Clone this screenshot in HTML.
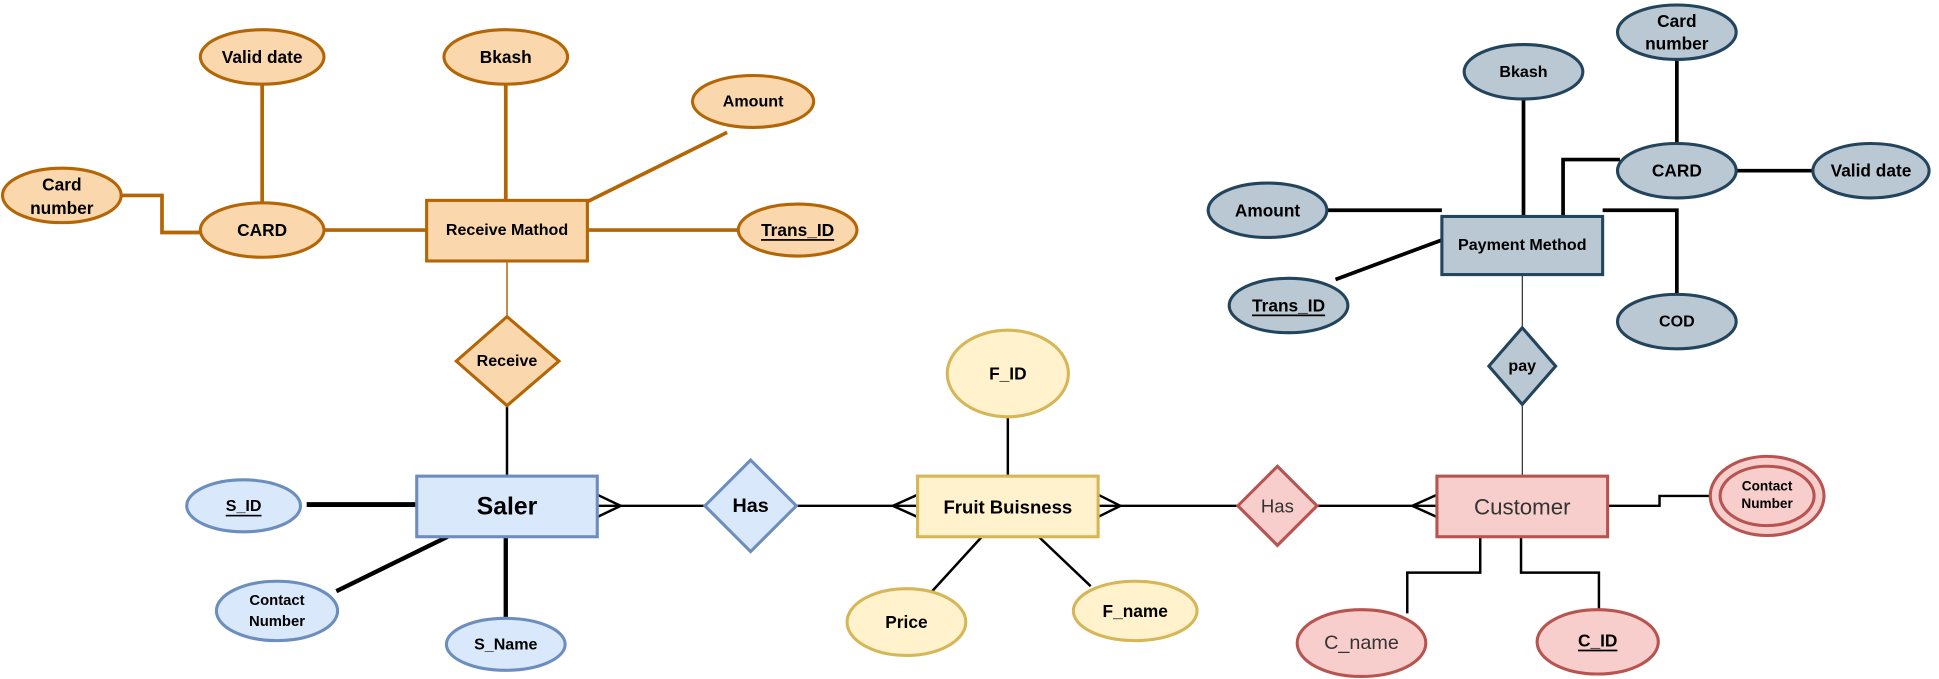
<!DOCTYPE html>
<html><head><meta charset="utf-8"><style>
html,body{margin:0;padding:0;background:#fff;}
svg{display:block;}
text{font-family:"Liberation Sans",Arial,sans-serif;text-anchor:middle;dominant-baseline:central;}
</style></head><body>
<svg width="1939" height="679" viewBox="0 0 1568 549" xmlns="http://www.w3.org/2000/svg">
<g fill="none" stroke-linejoin="miter">
<g stroke="#b46504" stroke-width="3">
<line x1="212" y1="68" x2="212" y2="164"/>
<line x1="409" y1="68" x2="409" y2="162"/>
<line x1="475" y1="163" x2="588" y2="107"/>
<polyline points="98,158 131,158 131,188 162,188"/>
<line x1="262" y1="186" x2="345" y2="186"/>
<line x1="475" y1="186" x2="597" y2="186"/>
</g>
<line x1="410" y1="211" x2="410" y2="256" stroke="#b46504" stroke-width="1.2"/>
<g stroke="#000" stroke-width="2">
<line x1="410" y1="328" x2="410" y2="385"/>
<line x1="483" y1="409" x2="570" y2="409"/>
<polyline points="483,400 502,409 483,418"/>
<line x1="644" y1="409" x2="742" y2="409"/>
<polyline points="742,400 722,409 742,418"/>
<line x1="888" y1="409" x2="1001" y2="409"/>
<polyline points="888,400 906,409 888,418"/>
<line x1="1065" y1="409" x2="1162" y2="409"/>
<polyline points="1162,400 1142,409 1162,418"/>
<line x1="815" y1="337" x2="815" y2="385"/>
<line x1="752" y1="480" x2="794" y2="434"/>
<line x1="882" y1="474" x2="840" y2="434"/>
<polyline points="1300,409 1342,409 1342,401 1383,401"/>
<polyline points="1197,434 1197,463 1138,463 1138,496"/>
<polyline points="1230,434 1230,463 1293,463 1293,493"/>
</g>
<line x1="248" y1="408" x2="337" y2="408" stroke="#000" stroke-width="4"/>
<line x1="272" y1="478" x2="362" y2="434" stroke="#000" stroke-width="3.5"/>
<line x1="409" y1="434" x2="409" y2="500" stroke="#000" stroke-width="3.5"/>
<g stroke="#000" stroke-width="3">
<line x1="1232" y1="80" x2="1232" y2="175"/>
<line x1="1356" y1="48" x2="1356" y2="116"/>
<polyline points="1264,175 1264,129 1310,129"/>
<line x1="1404" y1="138" x2="1466" y2="138"/>
<line x1="1073" y1="170" x2="1166" y2="170"/>
<line x1="1080" y1="226" x2="1166" y2="194"/>
<polyline points="1296,170 1356,170 1356,238"/>
</g>
<g stroke="#000" stroke-width="0.8">
<line x1="1231" y1="222" x2="1231" y2="265"/>
<line x1="1231" y1="327" x2="1231" y2="385"/>
</g>
</g>
<g fill="#fad7ac" stroke="#b46504" stroke-width="2.5">
<ellipse cx="212" cy="46" rx="50" ry="22"/>
<ellipse cx="409" cy="46" rx="50" ry="22"/>
<ellipse cx="609" cy="82" rx="49" ry="21"/>
<ellipse cx="50" cy="158" rx="48" ry="22"/>
<ellipse cx="212" cy="186" rx="50" ry="22"/>
<ellipse cx="645" cy="186" rx="48" ry="21"/>
<rect x="345" y="162" width="130" height="49"/>
<polygon points="410,256 452,292 410,328 369,292"/>
</g>
<g fill="#dae8fc" stroke="#6c8ebf" stroke-width="2.5">
<rect x="337" y="385" width="146" height="49"/>
<ellipse cx="197" cy="409" rx="46" ry="21"/>
<ellipse cx="224" cy="494" rx="49" ry="24"/>
<ellipse cx="409" cy="521" rx="48" ry="21"/>
<polygon points="607,372 644,409 607,446 570,409"/>
</g>
<g fill="#fff2cc" stroke="#d6b656" stroke-width="2.5">
<rect x="742" y="385" width="146" height="49"/>
<ellipse cx="815" cy="302" rx="49" ry="35"/>
<ellipse cx="733" cy="503" rx="48" ry="27"/>
<ellipse cx="918" cy="494" rx="50" ry="24"/>
</g>
<g fill="#f8cecc" stroke="#b85450" stroke-width="2.5">
<polygon points="1033,377 1065,409 1033,441 1001,409"/>
<rect x="1162" y="385" width="138" height="49"/>
<ellipse cx="1429" cy="401" rx="46" ry="32"/>
<ellipse cx="1429" cy="401" rx="38" ry="24"/>
<ellipse cx="1101" cy="520" rx="52" ry="27"/>
<ellipse cx="1292" cy="519" rx="49" ry="26"/>
</g>
<g fill="#bac8d3" stroke="#23445d" stroke-width="2.5">
<rect x="1166" y="175" width="130" height="47"/>
<ellipse cx="1232" cy="58" rx="48" ry="22"/>
<ellipse cx="1356" cy="26" rx="48" ry="22"/>
<ellipse cx="1356" cy="138" rx="48" ry="22"/>
<ellipse cx="1513" cy="138" rx="47" ry="22"/>
<ellipse cx="1025" cy="170" rx="48" ry="22"/>
<ellipse cx="1042" cy="247" rx="48" ry="22"/>
<ellipse cx="1356" cy="260" rx="48" ry="22"/>
<polygon points="1231,265 1258,296 1231,327 1204,296"/>
</g>
<g font-weight="bold" font-size="14" fill="#000">
<text x="212" y="46">Valid date</text>
<text x="409" y="46">Bkash</text>
<text x="609" y="82" font-size="13">Amount</text>
<text x="50" y="149">Card</text>
<text x="50" y="168">number</text>
<text x="212" y="186">CARD</text>
<text x="410" y="186" font-size="13">Receive Mathod</text>
<text x="645" y="186" text-decoration="underline">Trans_ID</text>
<text x="410" y="292" font-size="13">Receive</text>
<text x="410" y="410" font-size="20">Saler</text>
<text x="197" y="409" font-size="13" text-decoration="underline">S_ID</text>
<text x="224" y="486" font-size="12">Contact</text>
<text x="224" y="503" font-size="12">Number</text>
<text x="409" y="521" font-size="13">S_Name</text>
<text x="607" y="409" font-size="16">Has</text>
<text x="815" y="410" font-size="15">Fruit Buisness</text>
<text x="815" y="302">F_ID</text>
<text x="733" y="503">Price</text>
<text x="918" y="494">F_name</text>
<text x="1429" y="393" font-size="11">Contact</text>
<text x="1429" y="407" font-size="11">Number</text>
<text x="1292" y="518" text-decoration="underline">C_ID</text>
<text x="1232" y="58" font-size="13">Bkash</text>
<text x="1356" y="17">Card</text>
<text x="1356" y="35">number</text>
<text x="1356" y="138">CARD</text>
<text x="1513" y="138">Valid date</text>
<text x="1025" y="170">Amount</text>
<text x="1042" y="247" text-decoration="underline">Trans_ID</text>
<text x="1356" y="260" font-size="13">COD</text>
<text x="1231" y="198" font-size="13">Payment Method</text>
<text x="1231" y="296" font-size="13">pay</text>
</g>
<g font-size="16" fill="#333">
<text x="1033" y="409" font-size="15">Has</text>
<text x="1231" y="410" font-size="18">Customer</text>
<text x="1101" y="520">C_name</text>
</g>
</svg>
</body></html>
